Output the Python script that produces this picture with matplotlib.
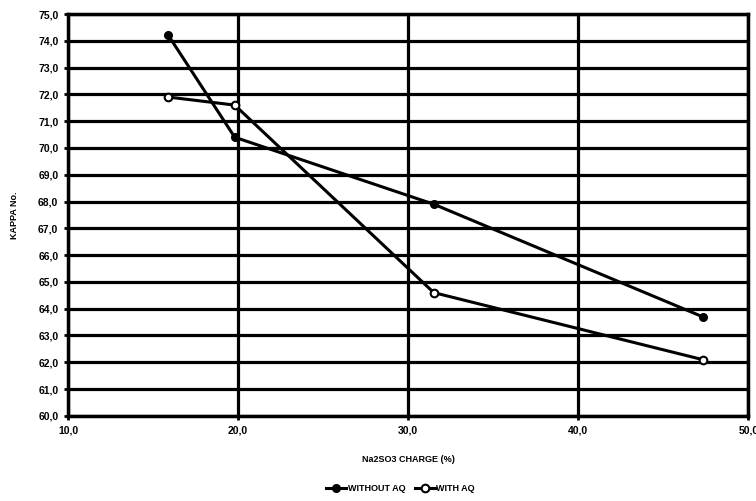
import matplotlib
matplotlib.use("Agg")
import matplotlib.pyplot as plt

charge = [15.9, 19.8, 31.5, 47.3]
without_aq = [74.2, 70.4, 67.9, 63.7]
with_aq = [71.9, 71.6, 64.6, 62.1]
xticks = [10, 20, 30, 40, 50]
yticks = [60 + i for i in range(16)]

plt.rcParams['font.family'] = ['Liberation Sans', 'DejaVu Sans']
plt.rcParams['font.weight'] = 'bold'

fig = plt.figure(figsize=(7.56, 5.01), dpi=100)
ax = fig.add_axes([0.09, 0.170, 0.900, 0.802])

ax.plot(charge, without_aq, color='black', lw=2.2, marker='o', ms=5.5,
        mfc='black', mec='black', label='WITHOUT AQ', zorder=3)
ax.plot(charge, with_aq, color='black', lw=2.2, marker='o', ms=5.5,
        mfc='white', mec='black', mew=1.5, label='WITH AQ', zorder=3)

ax.set_xlim(10, 50)
ax.set_ylim(60, 75)
ax.set_xticks(xticks)
ax.set_xticklabels([f"{v:.1f}".replace('.', ',') for v in xticks])
ax.set_yticks(yticks)
ax.set_yticklabels([f"{v:.1f}".replace('.', ',') for v in yticks])
ax.grid(True, color='black', lw=2.3)
ax.set_axisbelow(True)
for s in ax.spines.values():
    s.set_linewidth(2.5)
ax.tick_params(axis='both', labelsize=7.5, width=2, length=3, pad=4)
for lab in ax.get_xticklabels() + ax.get_yticklabels():
    lab.set_fontweight('bold')

ax.set_xlabel('Na2SO3 CHARGE (%)', fontsize=6.5, fontweight='bold', labelpad=14)
ax.set_ylabel('KAPPA No.', fontsize=6.5, fontweight='bold', labelpad=14)

fig.legend(loc='lower center', bbox_to_anchor=(0.53, 0.0), ncol=2, frameon=False,
           handlelength=2.2, handletextpad=0.2, columnspacing=1.0,
           prop={'weight': 'bold', 'size': 6.5})

fig.savefig('out.png', dpi=100)
